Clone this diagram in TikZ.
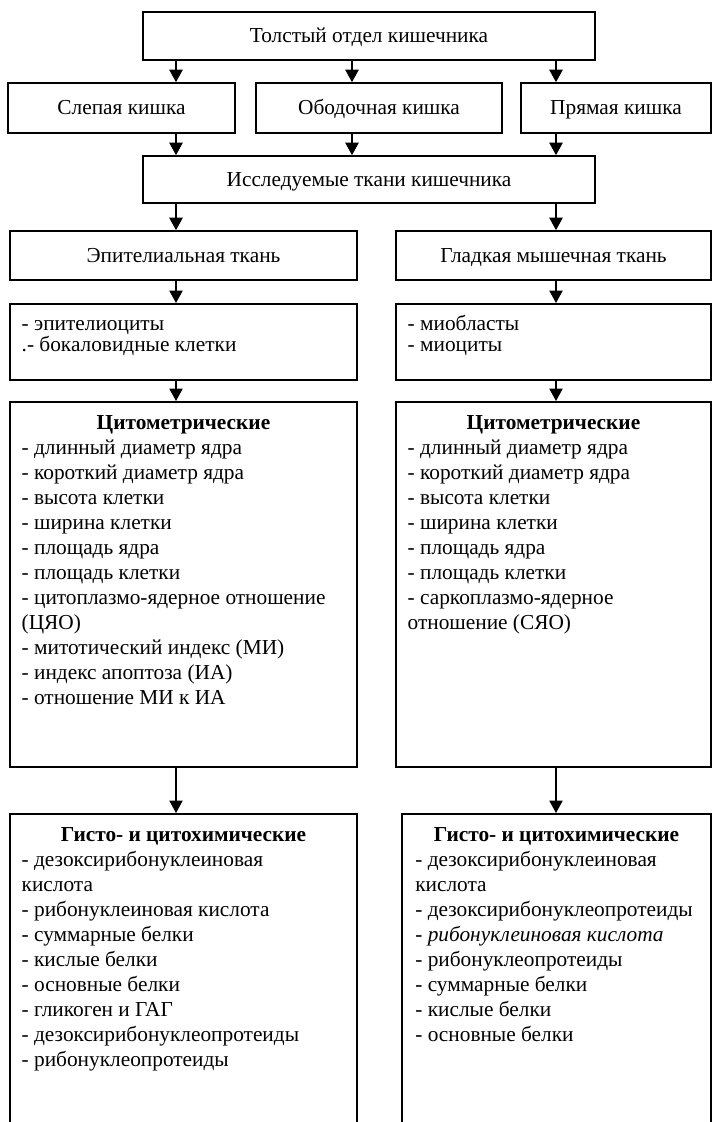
\documentclass[tikz,border=0pt]{standalone}
\usepackage{fontspec}
\setmainfont{Liberation Serif}
\usetikzlibrary{
		calc,
		positioning,
		arrows.meta
	}
\tikzset{
		>={Triangle[length=7.5pt,width=8pt]}
	}
\newcommand{\Head}[1]{{\centering\textbf{\rule{0pt}{16.5pt}#1}\par}}

\begin{document}
\begin{tikzpicture}[x=0.6pt, y=-0.6pt, font=\fontsize{12.8}{15}\selectfont,
					box/.style={draw, line width=1pt, inner sep=0pt, text height=2ex, text depth=0.3ex},
					panel/.style={draw, line width=1pt, anchor=north, inner xsep=7pt, inner ysep=0pt},
					link/.style={->, line width=0.9pt}]
		\clip (0,0) rectangle (713,1122);
		\coordinate (cl) at (176,0);
		\coordinate (cm) at (352,0);
		\coordinate (cr) at (556,0);
		\node[box, minimum width=271.2pt, minimum height=28.8pt] (bowel) at (369,36) {Толстый отдел кишечника};
		\node[box, minimum width=136.2pt, minimum height=30pt] (caecum) at (121.5,108) {Слепая кишка};
		\node[box, minimum width=147.6pt, minimum height=30pt] (colon) at (379,108) {Ободочная кишка};
		\node[box, minimum width=114pt, minimum height=30pt] (rectum) at (616,108) {Прямая кишка};
		\node[box, minimum width=271.2pt, minimum height=28.2pt] (tissues) at (369,179.5) {Исследуемые ткани кишечника};
		\node[box, minimum width=208.2pt, minimum height=29.4pt] (epith) at (183.5,255.5) {Эпителиальная ткань};
		\node[box, minimum width=189pt, minimum height=29.4pt] (smooth) at (553.5,255.5) {Гладкая мышечная ткань};
		\node[panel] (epcells) at (183.5,303) {\parbox[t][45.6pt][t]{194.2pt}{\fontsize{12.8}{12.8}\selectfont
			\rule{0pt}{16pt}- эпителиоциты\\
			.- бокаловидные клетки}};
		\node[panel] (smcells) at (553.5,303) {\parbox[t][45.6pt][t]{175pt}{\fontsize{12.8}{12.8}\selectfont
			\rule{0pt}{16pt}- миобласты\\
			- миоциты}};
		\node[panel] (epcyto) at (183.5,401) {\parbox[t][219pt][t]{194.2pt}{\Head{Цитометрические}
			- длинный диаметр ядра\\
			- короткий диаметр ядра\\
			- высота клетки\\
			- ширина клетки\\
			- площадь ядра\\
			- площадь клетки\\
			- цитоплазмо-ядерное отношение\\
			(ЦЯО)\\
			- митотический индекс (МИ)\\
			- индекс апоптоза (ИА)\\
			- отношение МИ к ИА}};
		\node[panel] (smcyto) at (553.5,401) {\parbox[t][219pt][t]{175pt}{\Head{Цитометрические}
			- длинный диаметр ядра\\
			- короткий диаметр ядра\\
			- высота клетки\\
			- ширина клетки\\
			- площадь ядра\\
			- площадь клетки\\
			- саркоплазмо-ядерное\\
			отношение (СЯО)}};
		\node[panel] (ephisto) at (183.5,813) {\parbox[t][198pt][t]{194.2pt}{\Head{Гисто- и цитохимические}
			- дезоксирибонуклеиновая\\
			кислота\\
			- рибонуклеиновая кислота\\
			- суммарные белки\\
			- кислые белки\\
			- основные белки\\
			- гликоген и ГАГ\\
			- дезоксирибонуклеопротеиды\\
			- рибонуклеопротеиды}};
		\node[panel, inner xsep=8pt] (smhisto) at (556.5,813) {\parbox[t][198pt][t]{169.4pt}{\Head{Гисто- и цитохимические}
			- дезоксирибонуклеиновая\\
			кислота\\
			- дезоксирибонуклеопротеиды\\
			- \textit{рибонуклеиновая кислота}\\
			- рибонуклеопротеиды\\
			- суммарные белки\\
			- кислые белки\\
			- основные белки}};
		\draw[link] (bowel.south -| cl) -- (caecum.north -| cl);
		\draw[link] (bowel.south -| cm) -- (colon.north -| cm);
		\draw[link] (bowel.south -| cr) -- (rectum.north -| cr);
		\draw[link] (caecum.south -| cl) -- (tissues.north -| cl);
		\draw[link] (colon.south -| cm) -- (tissues.north -| cm);
		\draw[link] (rectum.south -| cr) -- (tissues.north -| cr);
		\draw[link] (tissues.south -| cl) -- (epith.north -| cl);
		\draw[link] (tissues.south -| cr) -- (smooth.north -| cr);
		\draw[link] (epith.south -| cl) -- (epcells.north -| cl);
		\draw[link] (smooth.south -| cr) -- (smcells.north -| cr);
		\draw[link] (epcells.south -| cl) -- (epcyto.north -| cl);
		\draw[link] (smcells.south -| cr) -- (smcyto.north -| cr);
		\draw[link] (epcyto.south -| cl) -- (ephisto.north -| cl);
		\draw[link] (smcyto.south -| cr) -- (smhisto.north -| cr);
	\end{tikzpicture}
\end{document}
